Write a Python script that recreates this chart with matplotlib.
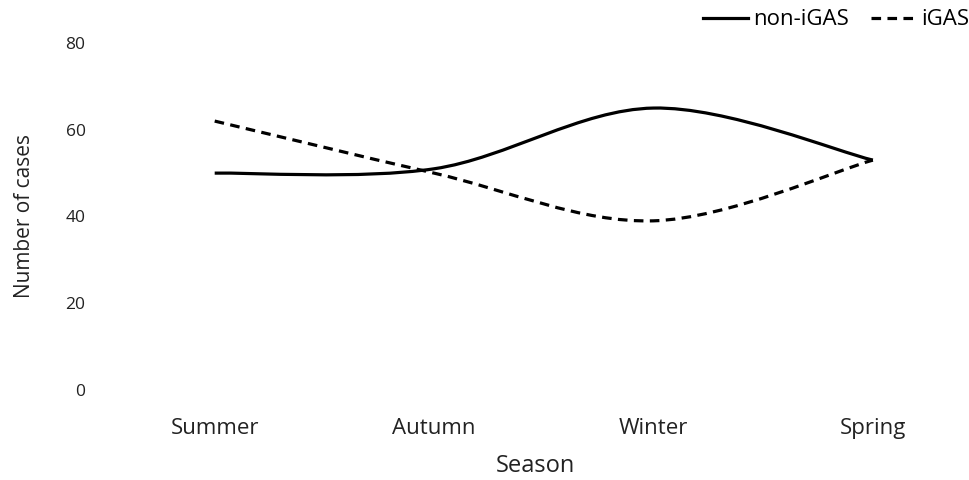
import numpy as np
import matplotlib
matplotlib.use("Agg")
import matplotlib.pyplot as plt
from matplotlib.path import Path
from matplotlib.patches import PathPatch
from matplotlib.lines import Line2D

plt.rcParams["font.family"] = ["Open Sans", "DejaVu Sans"]

# --- Data ---
seasons = ["Summer", "Autumn", "Winter", "Spring"]
non_igas = [50, 51, 65, 53]
igas = [62, 50, 39, 53]
y_ticks = [0, 20, 40, 60, 80]

TXT = "#222222"
DASH = (0, (3.0, 2.0))


def smooth_path(xs, ys):
    """Excel-like smoothed line: Catmull-Rom as cubic Bezier segments."""
    pts = np.column_stack([xs, ys]).astype(float)
    ext = np.vstack([pts[0], pts, pts[-1]])
    verts = [tuple(pts[0])]
    codes = [Path.MOVETO]
    for i in range(len(pts) - 1):
        p0, p1, p2, p3 = ext[i], ext[i + 1], ext[i + 2], ext[i + 3]
        c1 = p1 + (p2 - p0) / 6
        c2 = p2 - (p3 - p1) / 6
        verts += [tuple(c1), tuple(c2), tuple(p2)]
        codes += [Path.CURVE4] * 3
    return Path(verts, codes)


fig = plt.figure(figsize=(9.7, 4.8), dpi=100)
ax = fig.add_axes([105 / 970, 1 - 390 / 480, 860 / 970, (390 - 43) / 480])

x = np.arange(len(seasons))
ax.add_patch(PathPatch(smooth_path(x, non_igas), fill=False, color="black",
                       lw=2.3, capstyle="butt"))
ax.add_patch(PathPatch(smooth_path(x, igas), fill=False, color="black",
                       lw=2.3, linestyle=DASH, capstyle="butt"))

ax.set_xlim(-0.5, 3.42)
ax.set_ylim(0, 80)
ax.set_xticks(x)
ax.set_xticklabels(seasons, fontsize=16, color=TXT)
ax.set_yticks(y_ticks)
ax.set_yticklabels([str(v) for v in y_ticks], fontsize=12.5, color=TXT)
ax.tick_params(length=0)
ax.tick_params(axis="y", pad=14)
ax.tick_params(axis="x", pad=20)
for s in ax.spines.values():
    s.set_visible(False)

ax.set_xlabel("Season", fontsize=17, color=TXT, labelpad=11)
ax.set_ylabel("Number of cases", fontsize=15, color=TXT, labelpad=22)

handles = [Line2D([], [], color="black", lw=2.3),
           Line2D([], [], color="black", lw=2.3, linestyle=DASH)]
fig.legend(handles, ["non-iGAS", "iGAS"], loc="upper right",
           bbox_to_anchor=(1.02, 1.022), ncol=2, frameon=False, fontsize=16,
           handlelength=2.0, handletextpad=0.25, columnspacing=1.0)

fig.savefig("out.png", dpi=100)
